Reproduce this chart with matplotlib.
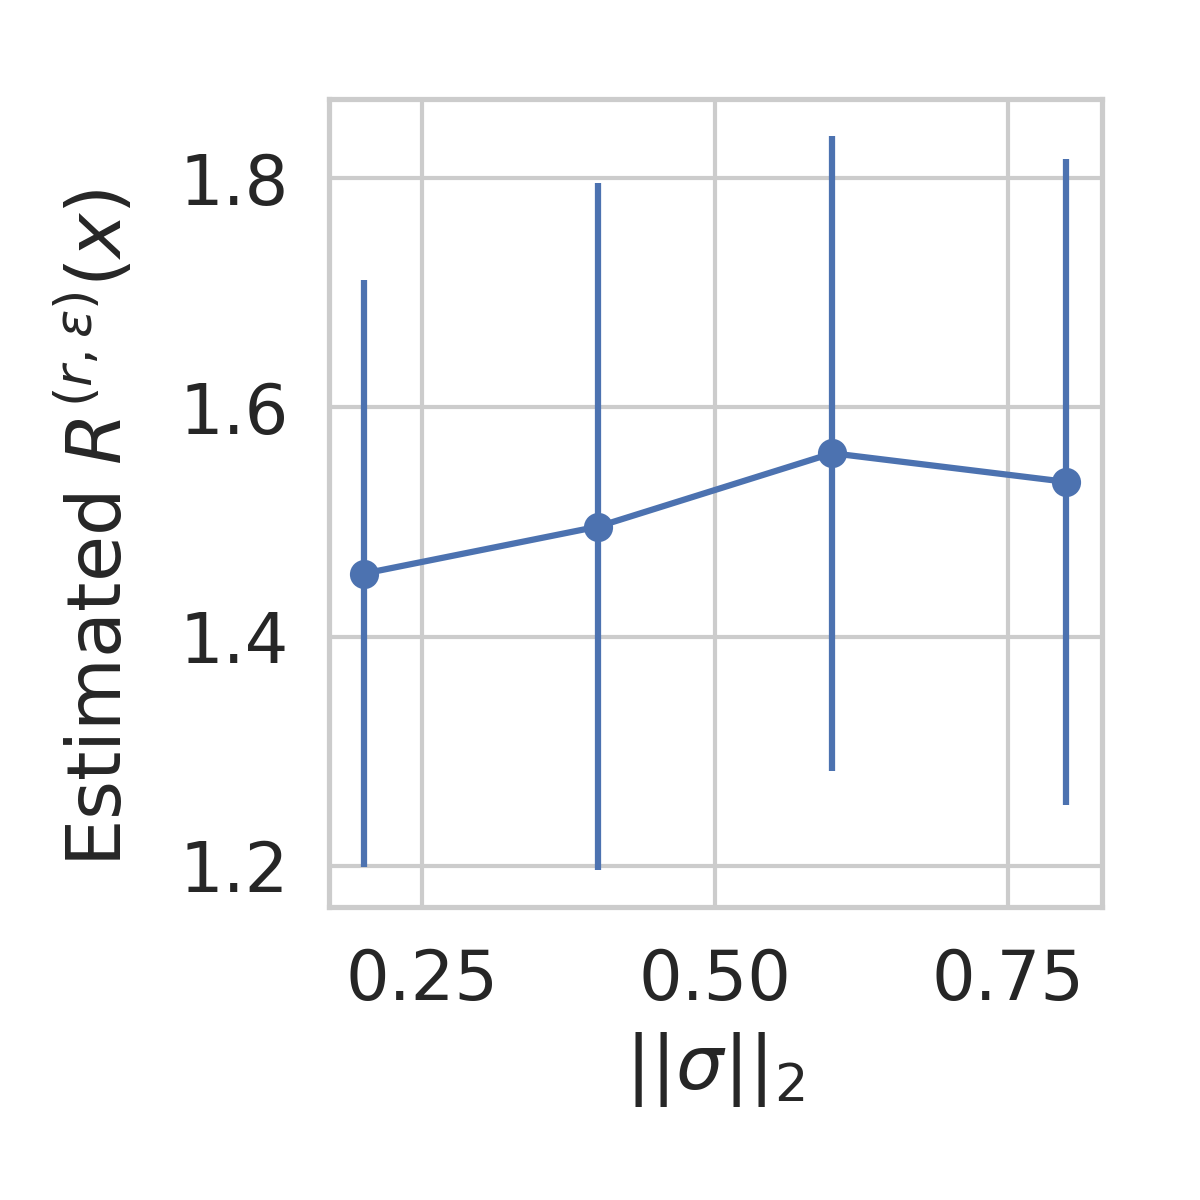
import matplotlib
matplotlib.use("Agg")
import matplotlib.pyplot as plt
import seaborn as sns

# sigma norms and estimated radius (mean +- std)
sigma_norm = [0.2, 0.4, 0.6, 0.8]
radius_mean = [1.455, 1.496, 1.560, 1.535]
radius_err = [0.256, 0.300, 0.277, 0.282]

sns.set_theme(style="whitegrid")

fig, ax = plt.subplots(figsize=(4, 4), dpi=300)
fig.subplots_adjust(left=0.274, right=0.918, bottom=0.244, top=0.9175)

ax.errorbar(sigma_norm, radius_mean, yerr=radius_err, color="#4c72b0",
            marker="o", markersize=6, linewidth=1.5, elinewidth=1.5)

ax.set_xticks([0.25, 0.50, 0.75])
ax.set_yticks([1.2, 1.4, 1.6, 1.8])
ax.tick_params(labelsize=16.5)
ax.set_xlabel(r"$||\sigma||_2$", fontsize=18)
ax.set_ylabel(r"Estimated $R^{(r,\varepsilon)}(x)$", fontsize=18)
ax.yaxis.set_label_coords(-0.247, 0.47)

fig.savefig("out.png")
